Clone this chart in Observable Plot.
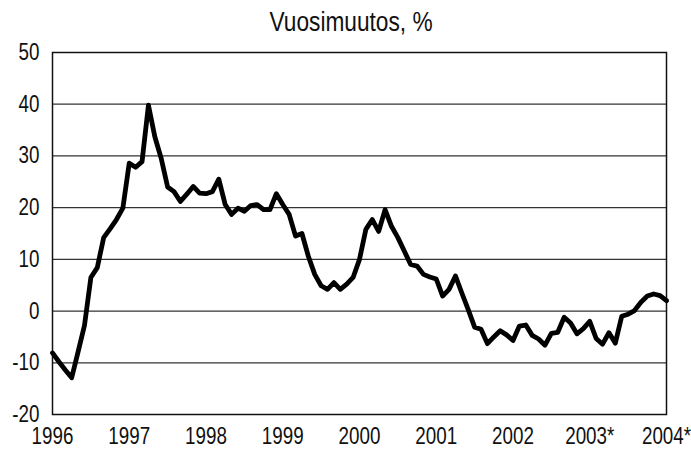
<!DOCTYPE html>
<html>
<head>
<meta charset="utf-8">
<script src="https://cdn.jsdelivr.net/npm/d3@7"></script>
<script src="https://cdn.jsdelivr.net/npm/@observablehq/plot@0.6"></script>
<style>
  html, body { margin: 0; padding: 0; background: #fff; }
  body { width: 691px; height: 449px; overflow: hidden; position: relative; font-family: "Liberation Sans", Arial, sans-serif; }
  #title { position: absolute; left: 0; top: 2px; width: 691px; height: 40px; line-height: 40px; font-size: 27px; text-align: center; padding-left: 12px; box-sizing: border-box; color: #111; white-space: nowrap; }
  #title span { display: inline-block; transform: scaleX(0.84); transform-origin: 50% 50%; }
  #chart { position: absolute; left: 0; top: 40px; }
  #chart svg { display: block; }
</style>
</head>
<body>
<div id="title"><span></span></div>
<div id="chart"></div>
<script>
const title = "Vuosimuutos, %";
const yearLabels = ["1996", "1997", "1998", "1999", "2000", "2001", "2002", "2003*", "2004*"];
const yTicks = [-20, -10, 0, 10, 20, 30, 40, 50];
// monthly year-on-year change, Jan 1996 .. Jan 2004
const values = [
  -8.1, -9.8, -11.4, -12.9, -7.9, -2.8, 6.5, 8.4, 14.2, 15.9, 17.7, 19.9,
  28.6, 27.8, 28.9, 39.8, 33.7, 29.5, 24.0, 23.1, 21.2, 22.6, 24.1, 22.8,
  22.7, 23.1, 25.5, 20.6, 18.7, 19.9, 19.3, 20.4, 20.6, 19.6, 19.6, 22.7,
  20.6, 18.7, 14.5, 15.0, 10.6, 7.1, 4.9, 4.2, 5.5, 4.2, 5.2, 6.5,
  10.0, 15.8, 17.7, 15.4, 19.6, 16.4, 14.2, 11.6, 9.0, 8.7, 7.1, 6.6,
  6.2, 2.9, 4.2, 6.8, 3.5, 0.3, -3.1, -3.5, -6.3, -5.0, -3.8, -4.6,
  -5.7, -2.9, -2.7, -4.7, -5.4, -6.6, -4.3, -4.1, -1.2, -2.3, -4.4, -3.4,
  -2.0, -5.3, -6.4, -4.2, -6.2, -1.0, -0.6, 0.1, 1.7, 2.9, 3.3, 3.0,
  2.0
];
const data = values.map((v, i) => ({month: i, value: v}));
const yearTicks = yearLabels.map((_, i) => i * 12);

document.querySelector("#title span").textContent = title;

const chart = Plot.plot({
  width: 691,
  height: 409,
  marginLeft: 52,
  marginRight: 25,
  marginTop: 12,
  marginBottom: 35,
  style: {fontFamily: '"Liberation Sans", Arial, sans-serif', fontSize: "23.5px", color: "#111", background: "#fff"},
  x: {domain: [0, 96], label: null},
  y: {domain: [-20, 50], label: null},
  marks: [
    Plot.ruleY(yTicks.filter(d => d > -20 && d < 50), {stroke: "#333", strokeWidth: 1.2}),
    Plot.frame({stroke: "#111", strokeWidth: 1.5}),
    Plot.line(data, {x: "month", y: "value", stroke: "#000", strokeWidth: 4.8, strokeLinejoin: "round", strokeLinecap: "round"}),
    Plot.axisY({ticks: yTicks, tickFormat: (d) => String(d), tickSize: 0, tickPadding: 13, label: null, fontSize: 23.5}),
    Plot.axisX({ticks: yearTicks, tickFormat: (d) => yearLabels[d / 12], tickSize: 0, tickPadding: 13, label: null, fontSize: 23.5})
  ]
});
// emulate a narrow (Arial Narrow-like) face by condensing each label horizontally
chart.querySelectorAll("text").forEach((t) => {
  const x = parseFloat(t.getAttribute("x")) || 0;
  const tr = t.getAttribute("transform") || "";
  t.setAttribute("transform", `${tr} translate(${x},0) scale(0.8,1) translate(${-x},0)`.trim());
});
document.getElementById("chart").appendChild(chart);
</script>
</body>
</html>
